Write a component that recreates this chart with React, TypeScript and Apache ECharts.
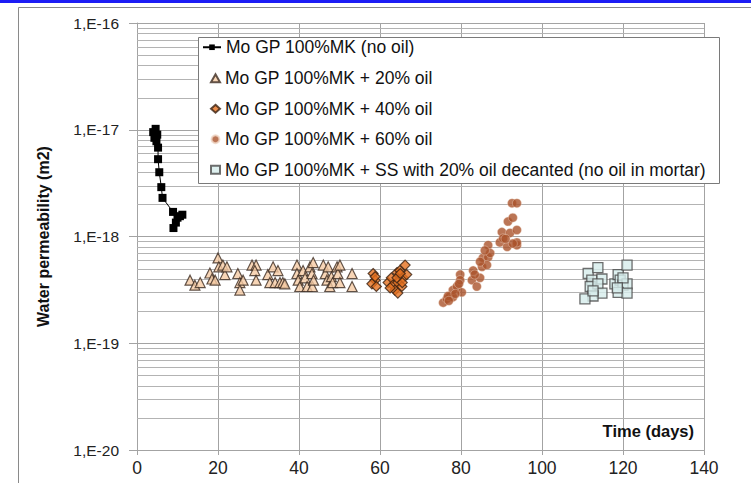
import React, { useEffect, useRef } from "react";
import * as echarts from "echarts";

const seriesNames = [
  "Mo GP 100%MK (no oil)",
  "Mo GP 100%MK + 20% oil",
  "Mo GP 100%MK + 40% oil",
  "Mo GP 100%MK + 60% oil",
  "Mo GP 100%MK + SS with 20% oil decanted (no oil in mortar)",
];

const xTicks = [0, 20, 40, 60, 80, 100, 120, 140];
const yDecades = [1e-20, 1e-19, 1e-18, 1e-17, 1e-16];
const minorMultipliers = [2, 3, 4, 5, 6, 7, 8, 9];

const noOil: number[][] = [
  [4.0, 9.5e-18], [4.3, 8.4e-18], [4.6, 1.02e-17], [4.8, 7.8e-18], [5.0, 9.0e-18],
  [5.2, 6.8e-18], [5.2, 5.3e-18], [5.5, 4.0e-18], [6.0, 2.9e-18], [6.3, 2.3e-18],
  [8.9, 1.7e-18], [10.6, 1.55e-18], [9.6, 1.35e-18], [9.0, 1.2e-18], [10.0, 1.5e-18], [11.2, 1.6e-18],
];

const oil20: number[][] = [
  [13.1, 3.9e-19], [14.3, 3.5e-19], [15.6, 3.7e-19], [18.0, 4.55e-19], [18.5, 4.0e-19],
  [19.3, 3.9e-19], [20.0, 6.3e-19], [20.2, 5.2e-19], [21.2, 5.4e-19], [21.7, 4.4e-19],
  [22.2, 5.2e-19], [24.9, 4.5e-19], [25.4, 3.7e-19], [25.4, 3.15e-19], [26.2, 3.9e-19],
  [28.4, 5.4e-19], [29.4, 5.4e-19], [29.1, 4.8e-19], [29.4, 3.9e-19], [32.3, 4.4e-19],
  [32.8, 3.7e-19], [33.6, 5.2e-19], [34.1, 3.7e-19], [34.8, 4.8e-19], [35.3, 3.7e-19],
  [36.0, 3.7e-19], [36.5, 3.6e-19], [39.5, 5.4e-19], [39.5, 4.5e-19], [39.8, 3.9e-19],
  [40.2, 3.4e-19], [41.0, 4.8e-19], [41.5, 4.1e-19], [42.0, 3.4e-19], [42.7, 5.2e-19],
  [43.2, 4.5e-19], [43.5, 5.7e-19], [43.3, 3.4e-19], [43.6, 3.9e-19], [46.0, 5.4e-19],
  [46.5, 4.5e-19], [46.9, 3.9e-19], [47.2, 5.2e-19], [47.6, 3.4e-19], [48.0, 4.2e-19],
  [48.3, 3.7e-19], [49.4, 5.2e-19], [49.6, 4.5e-19], [50.1, 5.4e-19], [50.1, 3.7e-19],
  [53.1, 4.5e-19], [53.1, 3.4e-19],
];

const oil40: number[][] = [
  [58.3, 4.5e-19], [58.8, 3.9e-19], [58.0, 3.6e-19], [59.1, 3.4e-19], [58.8, 4.2e-19],
  [62.0, 3.7e-19], [62.8, 4.1e-19], [63.2, 3.5e-19], [63.7, 3.15e-19], [64.2, 4.6e-19],
  [64.4, 3.7e-19], [64.9, 4.8e-19], [65.4, 3.4e-19], [65.7, 4.1e-19], [66.2, 5.4e-19],
  [66.6, 4.4e-19], [64.4, 2.95e-19], [62.5, 3.3e-19], [64.2, 4.1e-19], [65.5, 3.7e-19],
  [65.0, 4.5e-19],
];

const oil60: number[][] = [
  [75.6, 2.4e-19], [76.5, 2.6e-19], [77.3, 2.75e-19], [78.0, 2.7e-19], [78.0, 3.15e-19],
  [79.0, 3.4e-19], [79.8, 4.4e-19], [80.2, 3.0e-19], [76.8, 2.77e-19], [79.8, 3.9e-19],
  [79.5, 3.6e-19], [78.6, 2.9e-19], [77.0, 2.5e-19], [82.7, 3.9e-19], [83.9, 3.4e-19],
  [83.0, 4.8e-19], [84.7, 4.1e-19], [83.4, 4.4e-19], [85.2, 5.2e-19], [85.4, 6.3e-19],
  [86.7, 6.4e-19], [86.7, 8.3e-19], [87.2, 7.0e-19], [86.4, 5.4e-19], [84.7, 5.8e-19],
  [85.9, 7.4e-19], [89.6, 8.8e-19], [90.1, 1.1e-18], [90.4, 9.6e-19], [91.6, 1.38e-18],
  [92.1, 1.08e-18], [92.8, 1.5e-18], [93.8, 1.15e-18], [93.8, 8.3e-19], [93.8, 8.8e-19],
  [92.6, 2.05e-18], [93.8, 2.05e-18], [91.4, 8.0e-19], [92.8, 8.6e-19], [91.0, 9.5e-19],
];

const ssDecanted: number[][] = [
  [111.4, 4.5e-19], [113.8, 5.1e-19], [112.3, 3.9e-19], [114.8, 4.0e-19], [111.9, 3.4e-19],
  [113.8, 3.6e-19], [114.8, 2.95e-19], [112.6, 2.77e-19], [110.6, 2.6e-19], [112.6, 3.1e-19],
  [118.0, 3.6e-19], [118.8, 4.4e-19], [121.0, 5.4e-19], [119.3, 3.9e-19], [120.0, 3.5e-19],
  [121.0, 3.6e-19], [118.8, 3.0e-19], [121.0, 2.95e-19], [120.0, 4.1e-19], [118.6, 3.3e-19],
];

const FONT = "'Liberation Sans', Arial, sans-serif";

export default function App() {
  const ref = useRef<HTMLDivElement>(null);
  useEffect(() => {
    if (!ref.current) return;
    const chart = echarts.init(ref.current, undefined, { renderer: "svg" });
    const minorLines: number[][] = [];
    for (let d = 0; d < yDecades.length - 1; d++) {
      for (const k of minorMultipliers) minorLines.push([0, yDecades[d] * k]);
    }
    const gridColor = "#a3a3a3";
    const legendText = { fontSize: 17.5, color: "#111", fontFamily: FONT };
    chart.setOption({
      animation: false,
      backgroundColor: "#fff",
      textStyle: { fontFamily: FONT },
      grid: { left: 137, right: 47, top: 23, bottom: 33, containLabel: false },
      xAxis: {
        type: "value",
        min: 0,
        max: 140,
        interval: 20,
        axisLine: { show: true, lineStyle: { color: gridColor } },
        axisTick: { show: true, length: 5, lineStyle: { color: gridColor } },
        axisLabel: { color: "#222", fontSize: 17.5, margin: 9, fontFamily: FONT },
        splitLine: { show: true, lineStyle: { color: gridColor, width: 1 } },
      },
      yAxis: {
        type: "log",
        logBase: 10,
        min: 1e-20,
        max: 1e-16,
        name: "Water permeability (m2)",
        nameLocation: "middle",
        nameGap: 86,
        nameTextStyle: { fontWeight: "bold", fontSize: 16, color: "#111", fontFamily: FONT },
        axisLine: { show: true, lineStyle: { color: gridColor } },
        axisTick: { show: true, length: 8, lineStyle: { color: gridColor } },
        axisLabel: {
          color: "#222",
          fontSize: 15.5,
          margin: 18,
          fontFamily: FONT,
          formatter: (v: number) => "1,E" + Math.round(Math.log10(v)),
        },
        splitLine: { show: true, lineStyle: { color: gridColor, width: 1 } },
      },
      legend: [
        {
          orient: "vertical",
          left: 202,
          top: 38.25,
          padding: 0,
          data: [seriesNames[0]],
          itemWidth: 18,
          itemHeight: 7,
          textStyle: legendText,
          z: 6,
        },
        {
          orient: "vertical",
          left: 210,
          top: 69.25,
          padding: 0,
          data: seriesNames.slice(1),
          itemGap: 12.5,
          itemWidth: 9,
          itemHeight: 8,
          textStyle: legendText,
          z: 6,
        },
      ],
      graphic: [
        { type: "rect", shape: { x: 0, y: 0, width: 751, height: 3 }, style: { fill: "#1c1cf5" }, z: 100 },
        {
          type: "rect",
          shape: { x: 18.5, y: 7.5, width: 760, height: 500 },
          style: { fill: "none", stroke: "#8a8a8a", lineWidth: 1 },
          z: 100,
          silent: true,
        },
        {
          type: "rect",
          shape: { x: 198.5, y: 37.5, width: 521, height: 146 },
          style: { fill: "#fff", stroke: "#7a7a7a", lineWidth: 1 },
          z: 4,
          silent: true,
        },
        {
          type: "text",
          right: 57,
          top: 422,
          style: { text: "Time (days)", fontSize: 16.5, fontWeight: "bold", fill: "#111", fontFamily: FONT },
          z: 50,
        },
      ],
      series: [
        {
          name: "minorGrid",
          type: "custom",
          data: minorLines,
          encode: { x: 0, y: 1 },
          silent: true,
          z: 1,
          renderItem: (_params: any, api: any) => {
            const v = api.value(1);
            const p1 = api.coord([0, v]);
            const p2 = api.coord([140, v]);
            const y = Math.round(p1[1]) + 0.5;
            return {
              type: "line",
              shape: { x1: p1[0], y1: y, x2: p2[0], y2: y },
              style: { stroke: "#b3b3b3", lineWidth: 1 },
            };
          },
        },
        {
          name: seriesNames[0],
          type: "line",
          data: noOil,
          symbol: "rect",
          symbolSize: 8,
          lineStyle: { color: "#000", width: 1 },
          itemStyle: { color: "#000" },
          z: 5,
        },
        {
          name: seriesNames[1],
          type: "scatter",
          data: oil20,
          symbol: "triangle",
          symbolSize: 10,
          itemStyle: { color: "#f5cba4", borderColor: "#3b2b20", borderWidth: 1.2 },
        },
        {
          name: seriesNames[2],
          type: "scatter",
          data: oil40,
          symbol: "diamond",
          symbolSize: 10,
          itemStyle: { color: "#e5711f", borderColor: "#3a2010", borderWidth: 1.2 },
        },
        {
          name: seriesNames[3],
          type: "scatter",
          data: oil60,
          symbol: "circle",
          symbolSize: 9,
          itemStyle: { color: "#aa532b", borderColor: "#f0d8c8", borderWidth: 0.5 },
        },
        {
          name: seriesNames[4],
          type: "scatter",
          data: ssDecanted,
          symbol: "rect",
          symbolSize: 10,
          itemStyle: { color: "#d6eceb", borderColor: "#4a4a4a", borderWidth: 1.3 },
        },
      ],
    });
    return () => chart.dispose();
  }, []);
  return <div ref={ref} style={{ width: 751, height: 483, position: "absolute", left: 0, top: 0 }} />;
}
